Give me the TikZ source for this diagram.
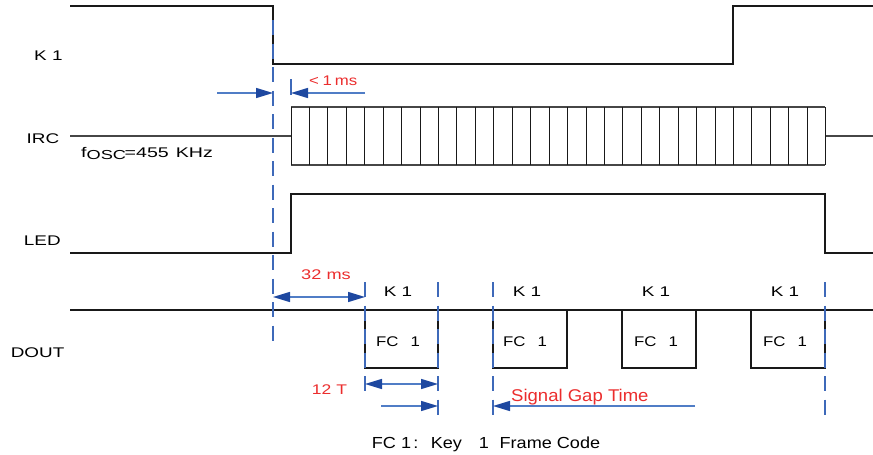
\documentclass[tikz,border=0pt]{standalone}
\usepackage{fontspec}
\setmainfont{Liberation Sans}
\usetikzlibrary{arrows.meta}
\definecolor{sigblack}{RGB}{25,25,25}
\definecolor{ircgray}{RGB}{70,70,70}
\definecolor{dashblue}{RGB}{62,105,185}
\definecolor{lineblue}{RGB}{80,125,198}
\definecolor{headblue}{RGB}{30,72,160}
\definecolor{redtxt}{RGB}{235,45,45}
\newcommand\hs[2]{\scalebox{#1}[1]{#2}}
\begin{document}
\begin{tikzpicture}[x=1pt,y=-1pt,
  sig/.style={line width=1.3pt, sigblack},
  ircl/.style={line width=1.2pt, ircgray},
  irctick/.style={line width=1pt, sigblack},
  guide/.style={dashblue, line width=1.4pt, dash pattern=on 15pt off 8.5pt},
  dim/.style={lineblue, line width=1.4pt, >={Triangle[length=17pt,width=10pt,color=headblue]}},
  lbl/.style={font=\fontsize{14}{14}\selectfont, inner sep=0pt, text=black},
  rlbl/.style={font=\fontsize{14}{14}\selectfont, inner sep=0pt, text=redtxt},
]
\useasboundingbox (0,0) rectangle (873,455);

% ---------- K1 signal
\draw[sig] (70,6) -- (273,6) -- (273,64) -- (733,64) -- (733,6) -- (873,6);

% ---------- IRC signal
\draw[ircl] (70,136) -- (291,136);
\draw[ircl] (825,136) -- (873,136);
\draw[ircl] (291,107) -- (825,107);
\draw[ircl] (291,165) -- (825,165);
\foreach \i in {0,...,29} {
  \draw[irctick] ({291+\i*18.4385},107) -- ({291+\i*18.4385},165);
}

% ---------- LED signal
\draw[sig] (70,253) -- (291,253) -- (291,194) -- (825,194) -- (825,253) -- (873,253);

% ---------- DOUT signal
\draw[sig] (70,310) -- (873,310);
\foreach \xa/\xb in {365/438,493/567,622/696,751/825} {
  \draw[sig] (\xa,310) -- (\xa,368) -- (\xb,368) -- (\xb,310);
}

% ---------- guide lines
\draw[guide] (273,20) -- (273,347);
\draw[guide] (365,282) -- (365,393);
\draw[guide] (438,282) -- (438,417);
\draw[guide] (493,282) -- (493,417);
\draw[guide] (825,282) -- (825,417);
\draw[dashblue, line width=1.4pt] (291,79) -- (291,95);

% ---------- coordinates for dimension arrows
\coordinate (a1s) at (217,93);
\coordinate (a1e) at (273,93);
\coordinate (a2s) at (365,93);
\coordinate (a2e) at (291,93);
\coordinate (d32l) at (273,297);
\coordinate (d32r) at (365,297);
\coordinate (d12l) at (365,384);
\coordinate (d12r) at (438,384);
\coordinate (a3s) at (381,406);
\coordinate (a3e) at (438,406);
\coordinate (gs) at (695,406);
\coordinate (ge) at (493,406);

\draw[dim,->] (a1s) -- (a1e);
\draw[dim,->] (a2s) -- (a2e);
\draw[dim,<->] (d32l) -- (d32r);
\draw[dim,<->] (d12l) -- (d12r);
\draw[dim,->] (a3s) -- (a3e);
\draw[dim,->] (gs) -- (ge);

% ---------- labels
\node[lbl, anchor=base west] (lk1) at (34,60) {\hs{1.35}{K 1}};
\node[lbl, anchor=base west] (lirc) at (26.5,143) {\hs{1.35}{IRC}};
\node[lbl, anchor=base west] (lled) at (23.7,245) {\hs{1.35}{LED}};
\node[lbl, anchor=base west] (ldout) at (10.6,357) {\hs{1.35}{DOUT}};
\node[lbl, font=\fontsize{14}{14}\selectfont, anchor=base west] (fosc) at (81,157)
  {\hs{1.4}{f\raisebox{-2.5pt}{\fontsize{13}{13}\selectfont OSC}\kern-1pt=455\hspace{5pt}KHz}};

\foreach \x/\n in {398/1,527/2,656/3,785/4} {
  \node[lbl, anchor=base] (k\n) at (\x,296) {\hs{1.35}{K 1}};
}
\foreach \x/\n in {398/1,525/2,656/3,785/4} {
  \node[lbl, anchor=base] (fc\n) at (\x,346) {\hs{1.2}{FC\hspace{10pt}1}};
}

\node[rlbl, anchor=base west] (t1ms) at (309,85) {\hs{1.2}{<\hspace{3pt}1\hspace{2.5pt}ms}};
\node[rlbl, anchor=base] (t32) at (326,279.5) {\hs{1.3}{32 ms}};
\node[rlbl, anchor=base] (t12) at (329.5,394) {\hs{1.25}{12 T}};
\node[rlbl, font=\fontsize{17}{17}\selectfont, anchor=base west] (tgap) at (511,401.7) {\hs{1.09}{Signal Gap Time}};

\node[lbl, font=\fontsize{16}{16}\selectfont, anchor=base west] (legend) at (371.7,448)
  {\hs{1.13}{FC 1\hspace{2pt}:\hspace{11pt}Key\hspace{15pt}1\hspace{9.5pt}Frame Code}};
\end{tikzpicture}
\end{document}
